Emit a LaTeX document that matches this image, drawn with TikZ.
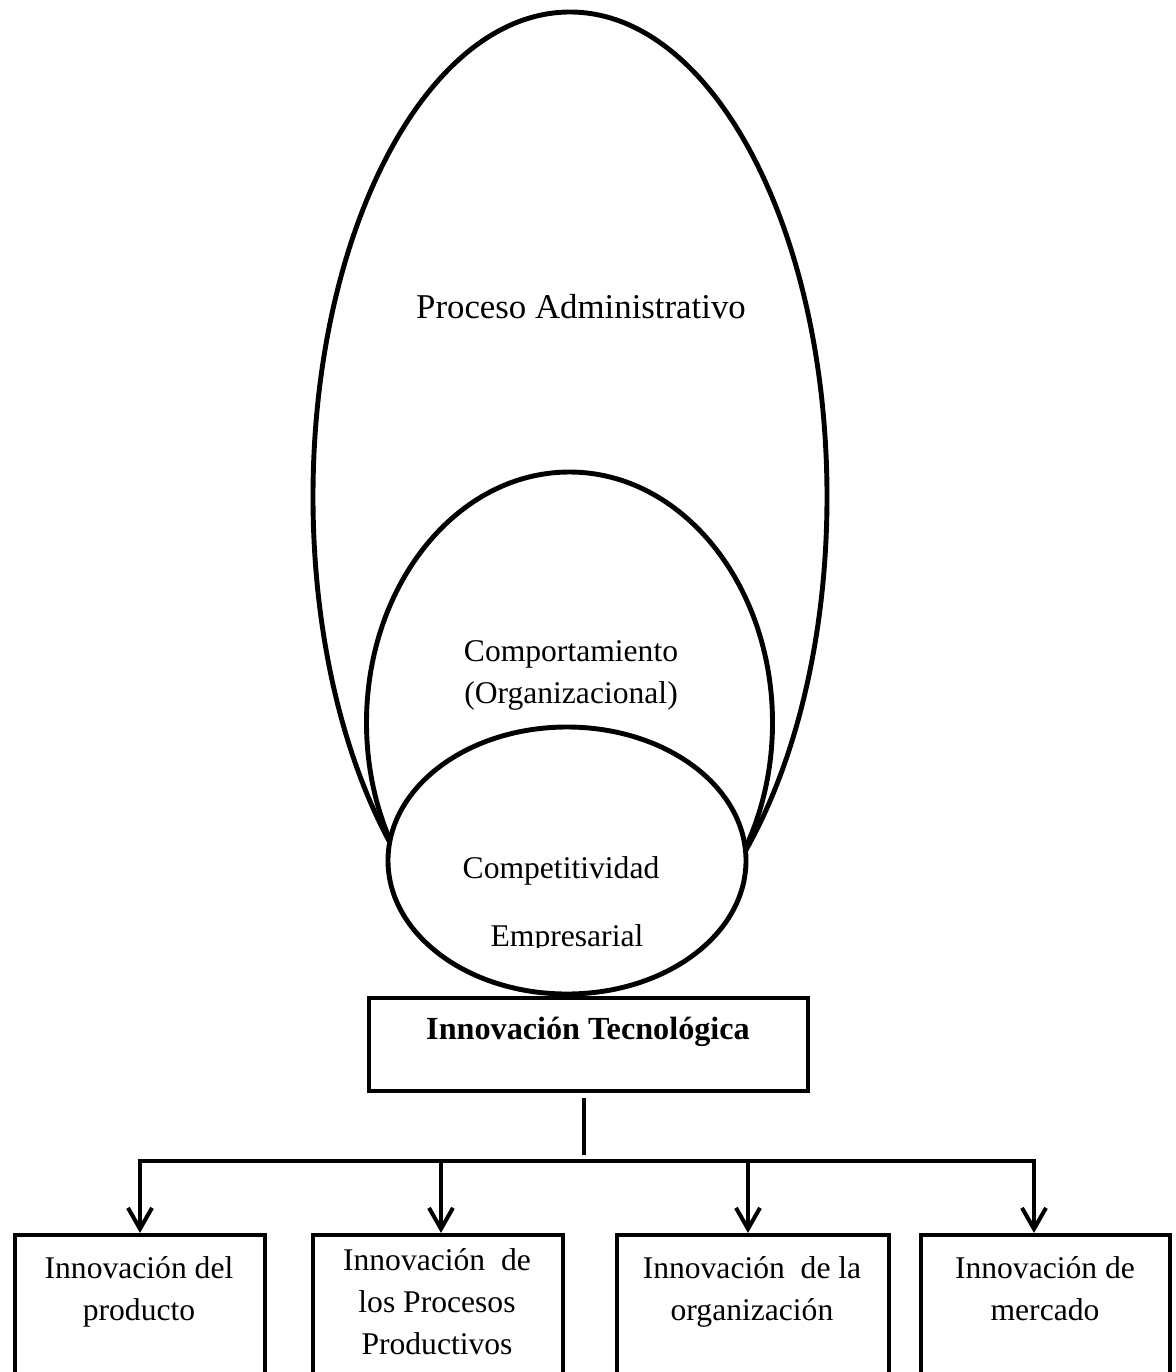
\documentclass[tikz,border=0pt]{standalone}
\usepackage{fontspec}
\setmainfont{Liberation Serif}
\usetikzlibrary{arrows.meta}
\begin{document}
\begin{tikzpicture}[x=0.5pt,y=-0.5pt,
  outline/.style={line width=2.45pt},
  txt/.style={font=\fontsize{15.8pt}{20.8pt}\selectfont, inner sep=0pt, anchor=base, align=center},
  leaf/.style={draw, line width=2.1pt, inner sep=0pt, minimum height=92.5pt},
  feed/.style={line width=2.1pt, line join=miter,
    -{Straight Barb[length=10.5pt,width=12pt,line width=2pt]}},
  barline/.style={line width=2.1pt},
  stem/.style={line width=1.6pt}
]
\useasboundingbox (0,0) rectangle (1176,1372);
\clip (0,0) rectangle (1176,1372);

% nested ellipses
\draw[outline] (570,496.7) ellipse [x radius=128.5pt, y radius=242.35pt];
\draw[outline] (569.5,722.7) ellipse [x radius=101.5pt, y radius=125.35pt];
\draw[outline, fill=white] (567,860.5) ellipse [x radius=89.5pt, y radius=66.75pt];

% multi-line labels are anchored at the baseline of their last line
\node[txt, font=\fontsize{17.4pt}{22pt}\selectfont] (admin) at (581,318) {Proceso Administrativo};
\node[txt] (comp) at (571,703) {Comportamiento\\(Organizacional)};
\node[txt] (compet) at (561,878) {Competitividad};
\begin{scope}
  \clip (420,900) rectangle (720,947);
  \node[txt] (empr) at (567,946) {Empresarial};
\end{scope}

% central box
\node[draw, line width=2.1pt, inner sep=0pt, minimum width=219.5pt, minimum height=46.5pt]
  (tec) at (588.5,1044.5) {};
\node[txt, font=\fontsize{16.1pt}{20.8pt}\selectfont\bfseries] (tectext) at (588,1039) {Innovación Tecnológica};

% lower boxes
\node[leaf, minimum width=125pt] (p1) at (140,1327.5) {};
\node[leaf, minimum width=125pt] (p2) at (438,1327.5) {};
\node[leaf, minimum width=136pt] (p3) at (753,1327.5) {};
\node[leaf, minimum width=124.5pt] (p4) at (1045.5,1327.5) {};

\node[txt] (t1) at (139,1320) {Innovación del\\producto};
\node[txt] (t2) at (437,1354) {Innovación\ \ de\\los Procesos\\Productivos};
\node[txt] (t3) at (752,1320) {Innovación\ \ de la\\organización};
\node[txt] (t4) at (1045,1320) {Innovación de\\mercado};

% distribution bar
\coordinate (b1) at (140,1161);
\coordinate (b2) at (441,1161);
\coordinate (b3) at (748,1161);
\coordinate (b4) at (1034,1161);
\coordinate (stemfoot) at (584,1155);

\draw[stem] (tec.south -| stemfoot) ++(0,5) -- (stemfoot);
\draw[feed] (b2) -- (b1) -- (b1 |- p1.north);
\draw[feed] (b3) -- (b4) -- (b4 |- p4.north);
\draw[barline] (b2) -- (b3);
\draw[feed] (b2) -- (b2 |- p2.north);
\draw[feed] (b3) -- (b3 |- p3.north);
\end{tikzpicture}
\end{document}
